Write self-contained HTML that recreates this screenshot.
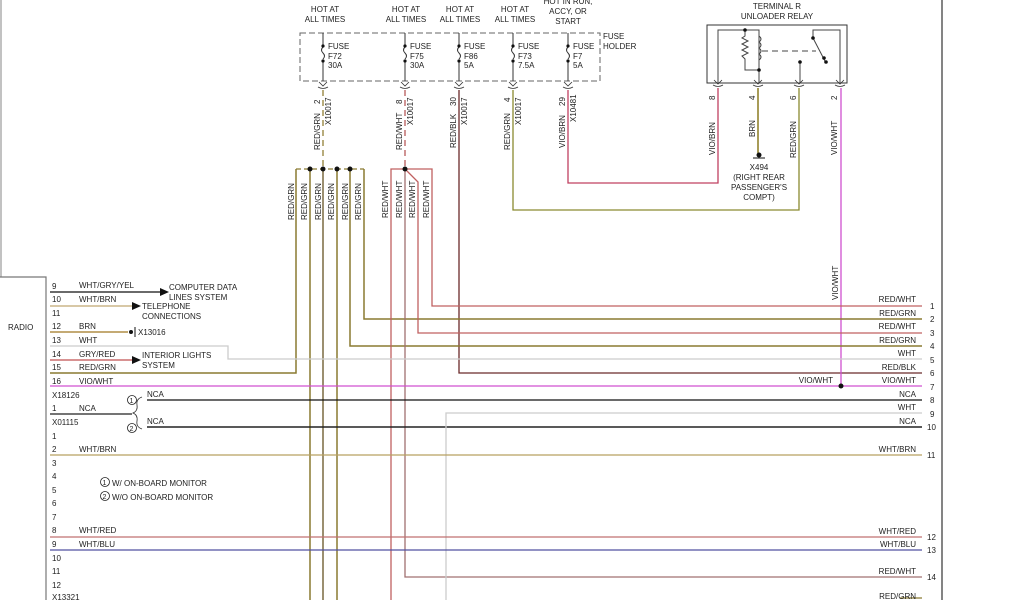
<!DOCTYPE html>
<html><head><meta charset="utf-8"><style>
html,body{margin:0;padding:0;background:#fff;}
svg{display:block;font-family:"Liberation Sans",sans-serif;}
text{font-size:8px;fill:#222;}
</style></head><body>
<svg width="1024" height="600" viewBox="0 0 1024 600" xmlns="http://www.w3.org/2000/svg">
<rect width="1024" height="600" fill="#fff"/>
<!-- left page border -->
<line x1="1" y1="0" x2="1" y2="277" stroke="#999" stroke-width="1.2"/>
<polyline points="0,277 46,277 46,600" fill="none" stroke="#777" stroke-width="1.2"/>
<line x1="942" y1="0" x2="942" y2="600" stroke="#333" stroke-width="1.2"/>
<text x="8" y="330">RADIO</text>

<!-- fuse holder -->
<rect x="300" y="33" width="300" height="48" fill="none" stroke="#666" stroke-dasharray="6,3"/>
<text x="603" y="39">FUSE</text><text x="603" y="49">HOLDER</text>
<g text-anchor="middle">
<text x="325" y="12">HOT AT</text><text x="325" y="22">ALL TIMES</text>
<text x="406" y="12">HOT AT</text><text x="406" y="22">ALL TIMES</text>
<text x="460" y="12">HOT AT</text><text x="460" y="22">ALL TIMES</text>
<text x="515" y="12">HOT AT</text><text x="515" y="22">ALL TIMES</text>
<text x="568" y="4">HOT IN RUN,</text><text x="568" y="14">ACCY, OR</text><text x="568" y="24">START</text>
</g>
<g stroke="#333" fill="none">
<path d="M323,33 V46 M323,60 V81"/><path d="M323,47 q-3,3 0,6 q3,3 0,6"/>
<path d="M405,33 V46 M405,60 V81"/><path d="M405,47 q-3,3 0,6 q3,3 0,6"/>
<path d="M459,33 V46 M459,60 V81"/><path d="M459,47 q-3,3 0,6 q3,3 0,6"/>
<path d="M513,33 V46 M513,60 V81"/><path d="M513,47 q-3,3 0,6 q3,3 0,6"/>
<path d="M568,33 V46 M568,60 V81"/><path d="M568,47 q-3,3 0,6 q3,3 0,6"/>
</g>
<g fill="#111"><circle cx="323" cy="46" r="1.6"/><circle cx="323" cy="61" r="1.6"/><circle cx="405" cy="46" r="1.6"/><circle cx="405" cy="61" r="1.6"/><circle cx="459" cy="46" r="1.6"/><circle cx="459" cy="61" r="1.6"/><circle cx="513" cy="46" r="1.6"/><circle cx="513" cy="61" r="1.6"/><circle cx="568" cy="46" r="1.6"/><circle cx="568" cy="61" r="1.6"/></g>
<text x="328" y="49">FUSE</text><text x="328" y="59">F72</text><text x="328" y="68">30A</text>
<text x="410" y="49">FUSE</text><text x="410" y="59">F75</text><text x="410" y="68">30A</text>
<text x="464" y="49">FUSE</text><text x="464" y="59">F86</text><text x="464" y="68">5A</text>
<text x="518" y="49">FUSE</text><text x="518" y="59">F73</text><text x="518" y="68">7.5A</text>
<text x="573" y="49">FUSE</text><text x="573" y="59">F7</text><text x="573" y="68">5A</text>
<!-- connector marks -->
<g stroke="#333" fill="none" stroke-width="0.8">
<path d="M319,82 l4,4 l4,-4 M318,87 q5,3 10,0"/>
<path d="M401,82 l4,4 l4,-4 M400,87 q5,3 10,0"/>
<path d="M455,82 l4,4 l4,-4 M454,87 q5,3 10,0"/>
<path d="M509,82 l4,4 l4,-4 M508,87 q5,3 10,0"/>
<path d="M564,82 l4,4 l4,-4 M563,87 q5,3 10,0"/>
<path d="M714,80 l4,4 l4,-4 M713,85 q5,3 10,0"/>
<path d="M754,80 l4,4 l4,-4 M753,85 q5,3 10,0"/>
<path d="M795,80 l4,4 l4,-4 M794,85 q5,3 10,0"/>
<path d="M836,80 l4,4 l4,-4 M835,85 q5,3 10,0"/>
</g>

<!-- vertical labels -->
<g>
<text transform="translate(320,104) rotate(-90)">2</text>
<text transform="translate(331,125) rotate(-90)">X10017</text>
<text transform="translate(320,150) rotate(-90)">RED/GRN</text>
<text transform="translate(402,104) rotate(-90)">8</text>
<text transform="translate(413,125) rotate(-90)">X10017</text>
<text transform="translate(402,150) rotate(-90)">RED/WHT</text>
<text transform="translate(456,106) rotate(-90)">30</text>
<text transform="translate(467,125) rotate(-90)">X10017</text>
<text transform="translate(456,148) rotate(-90)">RED/BLK</text>
<text transform="translate(510,102) rotate(-90)">4</text>
<text transform="translate(521,125) rotate(-90)">X10017</text>
<text transform="translate(510,150) rotate(-90)">RED/GRN</text>
<text transform="translate(565,106) rotate(-90)">29</text>
<text transform="translate(576,122) rotate(-90)">X10481</text>
<text transform="translate(565,148) rotate(-90)">VIO/BRN</text>
<text transform="translate(715,100) rotate(-90)">8</text>
<text transform="translate(715,155) rotate(-90)">VIO/BRN</text>
<text transform="translate(755,100) rotate(-90)">4</text>
<text transform="translate(755,137) rotate(-90)">BRN</text>
<text transform="translate(796,100) rotate(-90)">6</text>
<text transform="translate(796,158) rotate(-90)">RED/GRN</text>
<text transform="translate(837,100) rotate(-90)">2</text>
<text transform="translate(837,155) rotate(-90)">VIO/WHT</text>
<text transform="translate(838,300) rotate(-90)">VIO/WHT</text>
<text transform="translate(294,220) rotate(-90)">RED/GRN</text>
<text transform="translate(307,220) rotate(-90)">RED/GRN</text>
<text transform="translate(321,220) rotate(-90)">RED/GRN</text>
<text transform="translate(334,220) rotate(-90)">RED/GRN</text>
<text transform="translate(348,220) rotate(-90)">RED/GRN</text>
<text transform="translate(361,220) rotate(-90)">RED/GRN</text>
<text transform="translate(388,218) rotate(-90)">RED/WHT</text>
<text transform="translate(402,218) rotate(-90)">RED/WHT</text>
<text transform="translate(415,218) rotate(-90)">RED/WHT</text>
<text transform="translate(429,218) rotate(-90)">RED/WHT</text>
</g>

<!-- relay -->
<g text-anchor="middle"><text x="777" y="9">TERMINAL R</text><text x="777" y="19">UNLOADER RELAY</text></g>
<rect x="707" y="25" width="140" height="58" fill="none" stroke="#333"/>
<g stroke="#444" fill="none" stroke-width="1">
<polyline points="718,83 718,30 745,30 759,30 759,70"/>
<polyline points="745,30 745,36 742,38 748,41 742,44 748,47 742,50 748,53 742,56 745,59 745,70 759,70 759,83"/>
<path d="M759,36 q4,3 0,6 q4,3 0,6 q4,3 0,6 q4,3 0,6"/>
<line x1="762" y1="51" x2="816" y2="51" stroke-dasharray="6,4"/>
<polyline points="813,38 813,30 840,30 840,83"/>
<line x1="813" y1="38" x2="826" y2="63"/>
<line x1="800" y1="62" x2="800" y2="83"/>
</g>
<g fill="#111"><circle cx="745" cy="30" r="1.8"/><circle cx="759" cy="70" r="1.8"/><circle cx="813" cy="38" r="1.8"/><circle cx="824" cy="58" r="1.8"/><circle cx="826" cy="62" r="1.8"/><circle cx="800" cy="62" r="1.8"/></g>
<!-- ground -->
<line x1="758" y1="88" x2="758" y2="153" stroke="#8a7a20" stroke-width="1.5"/>
<circle cx="759" cy="155" r="2.5" fill="#111"/><line x1="753" y1="158" x2="765" y2="158" stroke="#111"/>
<g text-anchor="middle"><text x="759" y="170">X494</text><text x="759" y="180">(RIGHT REAR</text><text x="759" y="190">PASSENGER'S</text><text x="759" y="200">COMPT)</text></g>

<!-- wires from fuses -->
<line x1="323" y1="90" x2="323" y2="169" stroke="#a09050" stroke-width="1.5" stroke-dasharray="6,4"/>
<line x1="405" y1="90" x2="405" y2="169" stroke="#c07070" stroke-width="1.5" stroke-dasharray="6,4"/>
<polyline points="459,90 459,373 922,373" fill="none" stroke="#6b2a2a" stroke-width="1.3"/>
<polyline points="513,90 513,210 799,210 799,88" fill="none" stroke="#8a8a30" stroke-width="1.3"/>
<polyline points="568,90 568,183 718,183 718,88" fill="none" stroke="#c04060" stroke-width="1.3"/>
<polyline points="841,88 841,386" fill="none" stroke="#d050d0" stroke-width="1.3"/>

<!-- RED/GRN splice -->
<line x1="296" y1="169" x2="364" y2="169" stroke="#8a7a30" stroke-width="1.3" stroke-dasharray="5,3"/>
<g fill="none" stroke="#8a7a30" stroke-width="1.5">
<polyline points="296,169 296,373 50,373"/>
<line x1="310" y1="169" x2="310" y2="600"/>
<line x1="323" y1="169" x2="323" y2="600" stroke="#7a6a40"/>
<line x1="337" y1="169" x2="337" y2="600"/>
<polyline points="350,169 350,346 922,346"/>
<polyline points="364,169 364,319 922,319"/>
</g>
<g fill="#111"><circle cx="310" cy="169" r="2.5"/><circle cx="323" cy="169" r="2.5"/><circle cx="337" cy="169" r="2.5"/><circle cx="350" cy="169" r="2.5"/></g>
<!-- RED/WHT splice -->
<g fill="none" stroke="#c06060" stroke-width="1.3">
<polyline points="391,600 391,169 432,169 432,306 922,306"/>
<polyline points="405,169 405,577 922,577" stroke="#a07070"/>
<polyline points="405,169 418,182 418,333 922,333"/>
</g>
<circle cx="405" cy="169" r="2.5" fill="#111"/>

<!-- radio pins top -->
<g fill="none" stroke-width="1.3">
<line x1="50" y1="292" x2="160" y2="292" stroke="#111"/>
<line x1="50" y1="306" x2="132" y2="306" stroke="#c0a870"/>
<line x1="50" y1="332" x2="128" y2="332" stroke="#a07820"/>
<polyline points="50,346 228,346 228,359 922,359" stroke="#ccc"/>
<line x1="50" y1="360" x2="132" y2="360" stroke="#c05050"/>
<line x1="50" y1="386" x2="922" y2="386" stroke="#d050d0"/>
<line x1="50" y1="414" x2="132" y2="414" stroke="#222"/>
<line x1="147" y1="400" x2="922" y2="400" stroke="#111"/>
<line x1="147" y1="427" x2="922" y2="427" stroke="#222" stroke-width="1.6"/>
<polyline points="446,600 446,413 922,413" stroke="#ccc"/>
<line x1="50" y1="455" x2="922" y2="455" stroke="#b8a060"/>
<line x1="50" y1="537" x2="922" y2="537" stroke="#c07070"/>
<line x1="50" y1="550" x2="922" y2="550" stroke="#5050a0"/>
<line x1="900" y1="598" x2="922" y2="598" stroke="#8a7a30"/>
</g>
<circle cx="841" cy="386" r="2.5" fill="#111"/>
<g fill="#111">
<polygon points="160,288 169,292 160,296"/>
<polygon points="132,302 141,306 132,310"/>
<polygon points="132,356 141,360 132,364"/>
<circle cx="131" cy="332" r="2"/>
</g>
<line x1="135" y1="327" x2="135" y2="337" stroke="#111"/>
<text x="169" y="290">COMPUTER DATA</text><text x="169" y="300">LINES SYSTEM</text>
<text x="142" y="309">TELEPHONE</text><text x="142" y="319">CONNECTIONS</text>
<text x="138" y="335">X13016</text>
<text x="142" y="358">INTERIOR LIGHTS</text><text x="142" y="368">SYSTEM</text>
<!-- brace -->
<path d="M142,397 q-6,2 -5,8 q1,6 -4,8 q5,2 4,8 q-1,6 5,8" fill="none" stroke="#333" stroke-width="0.8"/>
<circle cx="132" cy="400" r="4.5" fill="none" stroke="#222" stroke-width="0.8"/><text x="129.5" y="403" style="font-size:7px">1</text>
<circle cx="132" cy="428" r="4.5" fill="none" stroke="#222" stroke-width="0.8"/><text x="129.5" y="431" style="font-size:7px">2</text>
<text x="147" y="397">NCA</text><text x="147" y="424">NCA</text>
<circle cx="105" cy="482" r="4.5" fill="none" stroke="#222" stroke-width="0.8"/><text x="102.5" y="485" style="font-size:7px">1</text>
<circle cx="105" cy="496" r="4.5" fill="none" stroke="#222" stroke-width="0.8"/><text x="102.5" y="499" style="font-size:7px">2</text>
<text x="112" y="486">W/ ON-BOARD MONITOR</text><text x="112" y="500">W/O ON-BOARD MONITOR</text>

<!-- radio pin labels -->
<g>
<text x="52" y="289">9</text><text x="79" y="288">WHT/GRY/YEL</text>
<text x="52" y="302">10</text><text x="79" y="302">WHT/BRN</text>
<text x="52" y="316">11</text>
<text x="52" y="329">12</text><text x="79" y="329">BRN</text>
<text x="52" y="343">13</text><text x="79" y="343">WHT</text>
<text x="52" y="357">14</text><text x="79" y="357">GRY/RED</text>
<text x="52" y="370">15</text><text x="79" y="370">RED/GRN</text>
<text x="52" y="384">16</text><text x="79" y="384">VIO/WHT</text>
<text x="52" y="398">X18126</text>
<text x="52" y="411">1</text><text x="79" y="411">NCA</text>
<text x="52" y="425">X01115</text>
<text x="52" y="439">1</text>
<text x="52" y="452">2</text><text x="79" y="452">WHT/BRN</text>
<text x="52" y="466">3</text><text x="52" y="479">4</text><text x="52" y="493">5</text>
<text x="52" y="506">6</text><text x="52" y="520">7</text>
<text x="52" y="533">8</text><text x="79" y="533">WHT/RED</text>
<text x="52" y="547">9</text><text x="79" y="547">WHT/BLU</text>
<text x="52" y="561">10</text><text x="52" y="574">11</text><text x="52" y="588">12</text>
<text x="52" y="600">X13321</text>
</g>
<!-- right labels -->
<g text-anchor="end">
<text x="916" y="302">RED/WHT</text><text x="916" y="316">RED/GRN</text>
<text x="916" y="329">RED/WHT</text><text x="916" y="343">RED/GRN</text>
<text x="916" y="356">WHT</text><text x="916" y="370">RED/BLK</text>
<text x="916" y="383">VIO/WHT</text><text x="833" y="383">VIO/WHT</text>
<text x="916" y="397">NCA</text><text x="916" y="410">WHT</text>
<text x="916" y="424">NCA</text><text x="916" y="452">WHT/BRN</text>
<text x="916" y="534">WHT/RED</text><text x="916" y="547">WHT/BLU</text>
<text x="916" y="574">RED/WHT</text><text x="916" y="599">RED/GRN</text>
</g>
<g>
<text x="930" y="309">1</text><text x="930" y="322">2</text><text x="930" y="336">3</text>
<text x="930" y="349">4</text><text x="930" y="363">5</text><text x="930" y="376">6</text>
<text x="930" y="390">7</text><text x="930" y="403">8</text><text x="930" y="417">9</text>
<text x="927" y="430">10</text><text x="927" y="458">11</text><text x="927" y="540">12</text>
<text x="927" y="553">13</text><text x="927" y="580">14</text>
</g>
</svg>
</body></html>
